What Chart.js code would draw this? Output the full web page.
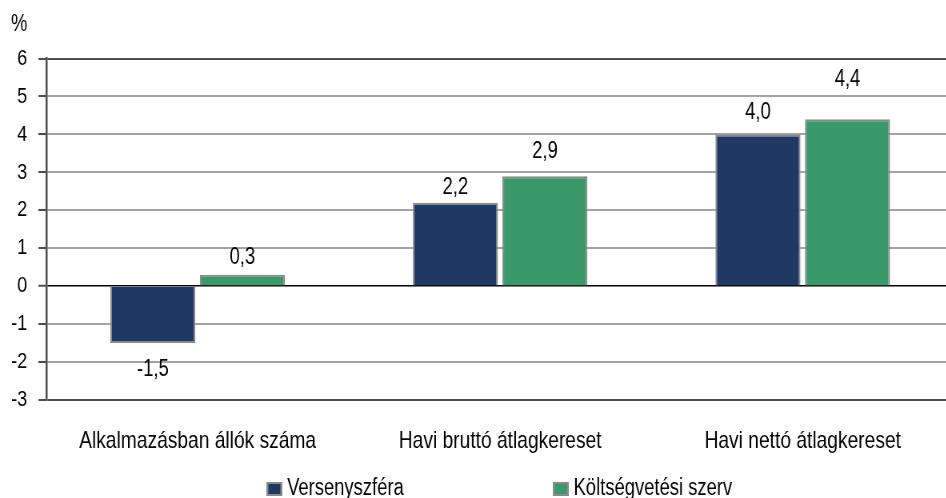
<!DOCTYPE html>
<html>
<head>
<meta charset="utf-8">
<script src="https://cdn.jsdelivr.net/npm/chart.js@4.4.0/dist/chart.umd.min.js"></script>
<style>
  html, body { margin: 0; padding: 0; background: #fff; overflow: hidden; }
  /* the original picture is squeezed sideways, so draw wide and squash */
  #stage { width: 1200px; height: 498px; transform: scaleX(0.8); transform-origin: 0 0; }
</style>
</head>
<body>
<div id="stage"><canvas id="chart" width="1200" height="498"></canvas></div>
<script>
const categories = ["Alkalmazásban állók száma", "Havi bruttó átlagkereset", "Havi nettó átlagkereset"];
const seriesNames = ["Versenyszféra", "Költségvetési szerv"];
const versenyszfera = [-1.5, 2.2, 4.0];
const koltsegvetesi = [0.3, 2.9, 4.4];
const yMin = -3;
const yMax = 6;
const yStep = 1;
const unitLabel = "%";

const FONT = '"Liberation Sans", Arial, sans-serif';
const colors = ["#1f3864", "#3a986a"];
const edge = "#8a8a8a";

// labels were placed by hand in the original, distance from bar end in px
const labelGap = [[27, 15.5, 21.5], [17.5, 24, 40]];

const valueLabels = {
  id: "valueLabels",
  afterDatasetsDraw(chart) {
    const ctx = chart.ctx;
    ctx.save();
    ctx.font = "23px " + FONT;
    ctx.fillStyle = "#000";
    ctx.textAlign = "center";
    ctx.textBaseline = "middle";
    chart.data.datasets.forEach((ds, i) => {
      chart.getDatasetMeta(i).data.forEach((bar, j) => {
        const v = ds.data[j];
        const y = v < 0 ? bar.y + labelGap[i][j] : bar.y - labelGap[i][j];
        ctx.fillText(v.toFixed(1).replace(".", ","), bar.x, y);
      });
    });
    ctx.restore();
  },
};

const extras = {
  id: "extras",
  afterDraw(chart) {
    const ctx = chart.ctx;
    ctx.save();
    ctx.fillStyle = "#000";
    ctx.font = "23px " + FONT;
    ctx.textAlign = "center";
    ctx.textBaseline = "middle";
    ctx.fillText(unitLabel, 24, 25);

    // legend
    const boxX = [333, 691];
    ctx.font = "23px " + FONT;
    ctx.textAlign = "left";
    chart.data.datasets.forEach((ds, i) => {
      ctx.fillStyle = edge;
      ctx.fillRect(boxX[i], 482, 20, 14);
      ctx.fillStyle = ds.backgroundColor;
      ctx.fillRect(boxX[i] + 2.5, 484, 15, 10);
      ctx.fillStyle = "#000";
      ctx.fillText(ds.label, boxX[i] + 26, 489);
    });
    ctx.restore();
  },
};

function gridColor(c) {
  const v = c.tick ? c.tick.value : null;
  if (v === 0) return "#000";
  if (v === yMin || v === yMax) return "#4d4d4d";
  return "#a3a3a3";
}

new Chart(document.getElementById("chart"), {
  type: "bar",
  data: {
    labels: categories,
    datasets: [
      {
        label: seriesNames[0],
        data: versenyszfera,
        backgroundColor: colors[0],
        borderColor: edge,
        borderWidth: 2,
        categoryPercentage: 0.592,
        barPercentage: 0.95,
      },
      {
        label: seriesNames[1],
        data: koltsegvetesi,
        backgroundColor: colors[1],
        borderColor: edge,
        borderWidth: 2,
        categoryPercentage: 0.592,
        barPercentage: 0.95,
      },
    ],
  },
  options: {
    responsive: false,
    animation: false,
    layout: { padding: { top: 58.5, right: 7.5, left: 0, bottom: 0 } },
    plugins: {
      legend: { display: false },
      tooltip: { enabled: false },
    },
    scales: {
      x: {
        afterFit(scale) {
          scale.height = 98;
        },
        grid: { display: false, drawTicks: false },
        border: { display: false },
        ticks: {
          padding: 27,
          color: "#000",
          font: { size: 24, family: FONT },
          maxRotation: 0,
          autoSkip: false,
        },
      },
      y: {
        min: yMin,
        max: yMax,
        afterFit(scale) {
          scale.width = 58;
        },
        ticks: {
          stepSize: yStep,
          padding: 14,
          color: "#000",
          font: { size: 22.5, family: FONT },
          callback: (v) => String(v),
        },
        grid: {
          color: gridColor,
          lineWidth: (c) => (c.tick && c.tick.value === 0 ? 1.5 : 2),
          tickLength: 10,
          tickColor: "#4d4d4d",
          tickWidth: 2,
        },
        border: { display: true, color: "#4d4d4d", width: 2.5 },
      },
    },
  },
  plugins: [valueLabels, extras],
});
</script>
</body>
</html>
